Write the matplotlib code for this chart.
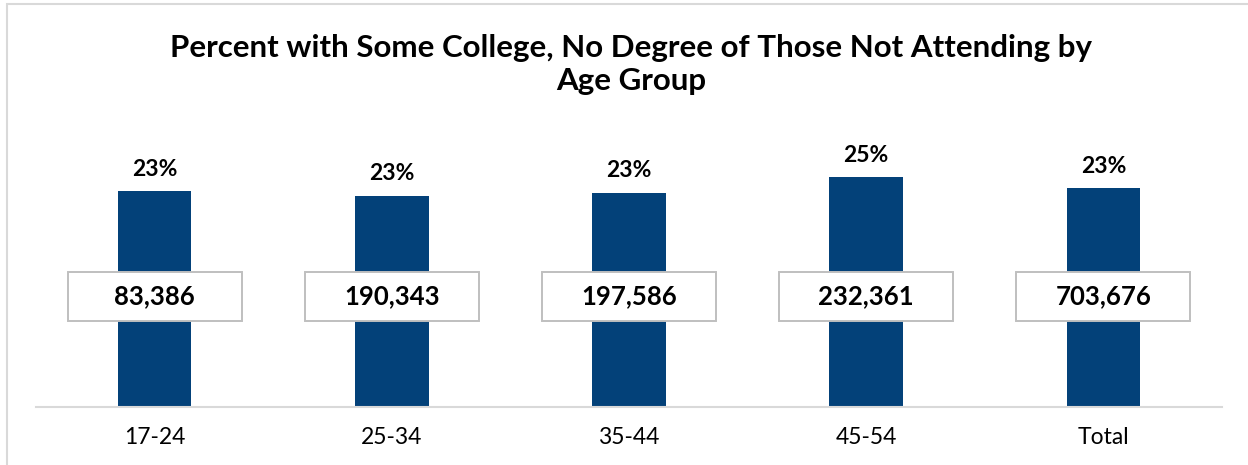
import matplotlib.pyplot as plt
from matplotlib.patches import Rectangle

plt.rcParams['font.family'] = ['Lato', 'DejaVu Sans']

# data
groups = ['17-24', '25-34', '35-44', '45-54', 'Total']
pct = [23.1, 22.6, 22.9, 24.6, 23.4]
pct_labels = ['23%', '23%', '23%', '25%', '23%']
counts = ['83,386', '190,343', '197,586', '232,361', '703,676']

bar_color = '#034179'
grid_gray = '#d9d9d9'

fig = plt.figure(figsize=(12.48, 4.65), dpi=100)
ax = fig.add_axes([36 / 1248, 1 - 406.5 / 465, (1222 - 36) / 1248, (406.5 - 127) / 465])

x = list(range(len(groups)))
bars = ax.bar(x, pct, width=0.31, color=bar_color, zorder=2)

ax.set_xlim(-0.5, len(groups) - 0.5)
ax.set_ylim(0, 30)

for b, lab in zip(bars, pct_labels):
    ax.annotate(lab, (b.get_x() + b.get_width() / 2, b.get_height()),
                xytext=(0, 16), textcoords='offset points',
                ha='center', va='center', fontsize=16.5, fontweight='bold')

# count boxes in the middle of bars
box_w, box_h, box_y = 0.734, 5.2, 11.8
for i, c in enumerate(counts):
    ax.add_patch(Rectangle((i - box_w / 2, box_y - box_h / 2), box_w, box_h,
                           facecolor='white', edgecolor='#bfbfbf', lw=1.4, zorder=3))
    ax.text(i, box_y, c, ha='center', va='center', fontsize=18.5,
            fontweight='bold', zorder=4)

ax.set_xticks(x)
ax.set_xticklabels(groups, fontsize=16.5)
ax.tick_params(axis='x', length=0, pad=15)
ax.set_yticks([])
for s in ['top', 'right', 'left']:
    ax.spines[s].set_visible(False)
ax.spines['bottom'].set_color(grid_gray)
ax.spines['bottom'].set_linewidth(1.5)

fig.text(631 / 1248, 1 - 64.5 / 465,
         'Percent with Some College, No Degree of Those Not Attending by\nAge Group',
         ha='center', va='center', fontsize=22.5, fontweight='bold', linespacing=1.25)

# chart frame
fig.patches.append(Rectangle((7 / 1248, -0.1), 1.2, 1.1 - 4.5 / 465,
                             transform=fig.transFigure, fill=False,
                             edgecolor=grid_gray, lw=1.5))

fig.savefig('out.png', dpi=100)
